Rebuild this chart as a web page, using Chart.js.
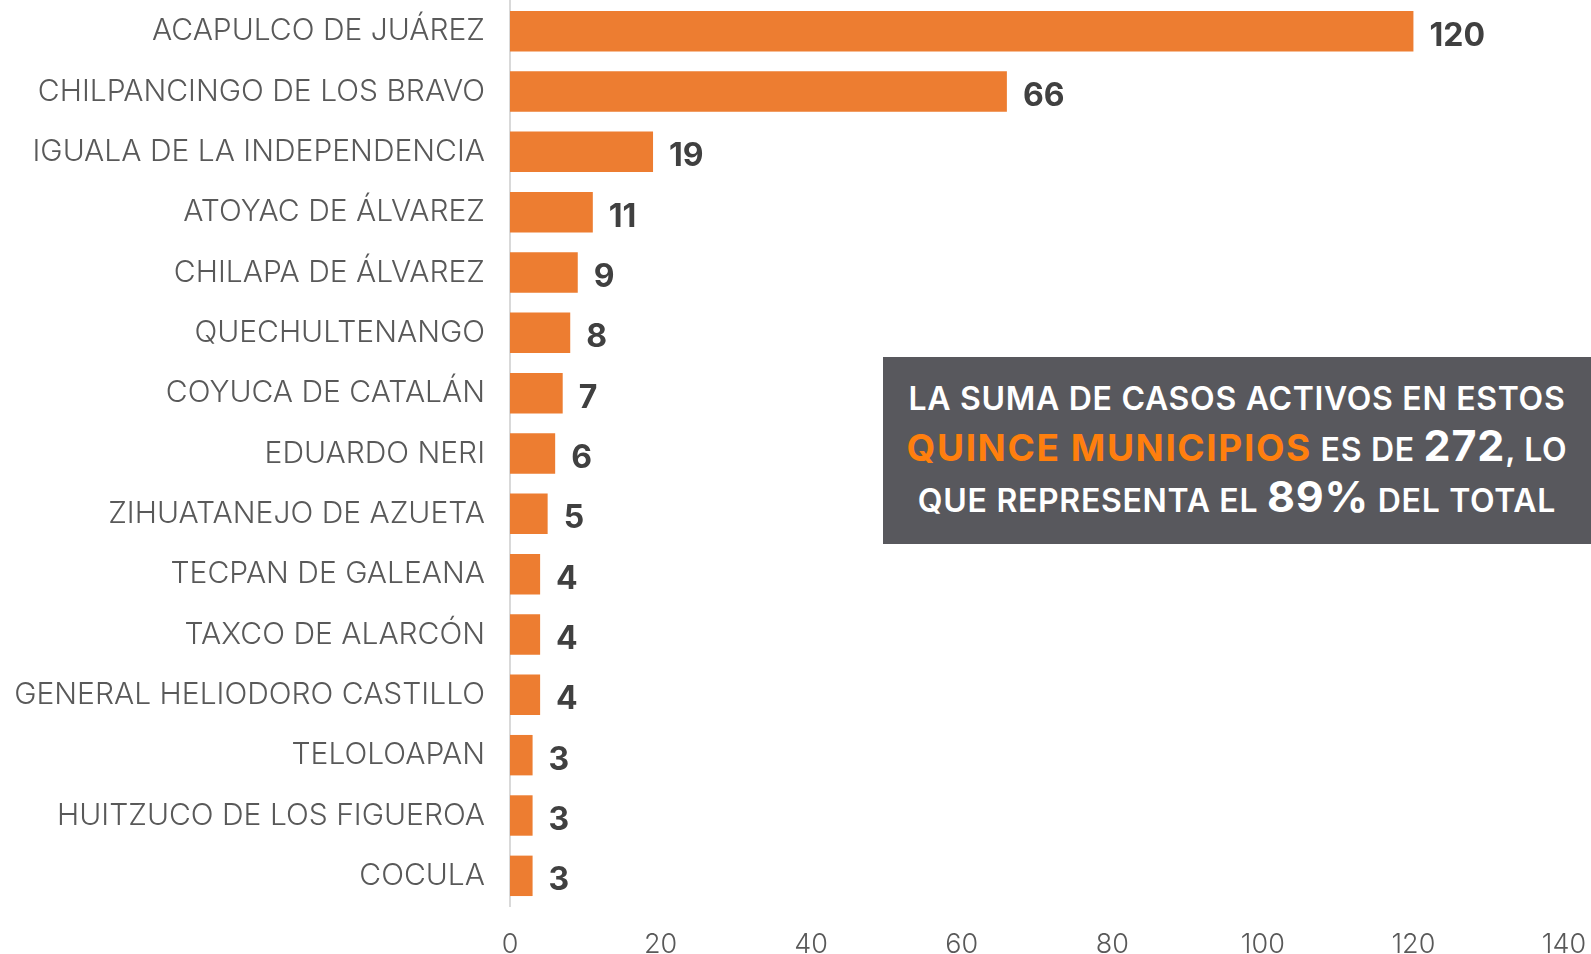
<!DOCTYPE html>
<html>
<head>
<meta charset="utf-8">
<script src="https://cdn.jsdelivr.net/npm/chart.js@4.4.0/dist/chart.umd.min.js"></script>
<style>
  html, body { margin: 0; padding: 0; background: #ffffff; }
  #wrap { position: relative; width: 1591px; height: 954px; }
  canvas { display: block; }
  #note {
    position: absolute; left: 883px; top: 357px; width: 708px; height: 187px;
    background: #58585d; color: #ffffff; box-sizing: border-box;
    font-family: Inter, "Noto Sans", sans-serif; font-weight: 600; font-size: 32px;
    text-align: center; line-height: 50px; padding-top: 17px; letter-spacing: 0.7px;
    white-space: nowrap;
  }
  #note span { line-height: 1; }
  #note .o { color: #ff7f0e; font-weight: 700; font-size: 37px; letter-spacing: 1.6px; }
  #note .b { font-weight: 700; font-size: 43px; letter-spacing: 0.8px; }
</style>
</head>
<body>
<div id="wrap">
  <canvas id="c" width="1591" height="954"></canvas>
  <div id="note">LA SUMA DE CASOS ACTIVOS EN ESTOS<br><span class="o">QUINCE MUNICIPIOS</span> ES DE <span class="b">272</span>, LO<br>QUE REPRESENTA EL <span class="b">89%</span> DEL TOTAL</div>
</div>
<script>
const categories = [
  "ACAPULCO DE JUÁREZ", "CHILPANCINGO DE LOS BRAVO", "IGUALA DE LA INDEPENDENCIA",
  "ATOYAC DE ÁLVAREZ", "CHILAPA DE ÁLVAREZ", "QUECHULTENANGO", "COYUCA DE CATALÁN",
  "EDUARDO NERI", "ZIHUATANEJO DE AZUETA", "TECPAN DE GALEANA", "TAXCO DE ALARCÓN",
  "GENERAL HELIODORO CASTILLO", "TELOLOAPAN", "HUITZUCO DE LOS FIGUEROA", "COCULA"
];
const values = [120, 66, 19, 11, 9, 8, 7, 6, 5, 4, 4, 4, 3, 3, 3];
const xTicks = [0, 20, 40, 60, 80, 100, 120, 140];

const valueLabels = {
  id: 'valueLabels',
  afterDatasetsDraw(chart) {
    const ctx = chart.ctx;
    const meta = chart.getDatasetMeta(0);
    ctx.save();
    ctx.font = '700 32px Inter, "Noto Sans", sans-serif';
    ctx.fillStyle = '#404040';
    ctx.textBaseline = 'middle';
    ctx.textAlign = 'left';
    meta.data.forEach((bar, i) => {
      ctx.fillText(String(values[i]), bar.x + 16, bar.y + 5);
    });
    ctx.restore();
  }
};

new Chart(document.getElementById('c'), {
  type: 'bar',
  data: {
    labels: categories,
    datasets: [{
      data: values,
      backgroundColor: '#ED7D31',
      borderWidth: 0,
      categoryPercentage: 1,
      barPercentage: 0.67
    }]
  },
  options: {
    indexAxis: 'y',
    responsive: false,
    animation: false,
    layout: { padding: { left: 0, right: 27, top: 1, bottom: 0 } },
    plugins: { legend: { display: false }, tooltip: { enabled: false } },
    scales: {
      x: {
        min: 0, max: 140,
        afterBuildTicks(scale) { scale.ticks = xTicks.map(v => ({ value: v })); },
        grid: { display: false, drawTicks: false },
        border: { display: false },
        ticks: {
          color: '#595959',
          font: { family: 'Inter, "Noto Sans", sans-serif', size: 27, weight: 300 },
          padding: 23,
          maxRotation: 0
        },
        afterFit(scale) { scale.height = 48; scale.paddingLeft = 0; scale.paddingRight = 0; }
      },
      y: {
        grid: { display: false, drawTicks: false },
        border: { display: true, color: '#d9d9d9', width: 2 },
        ticks: {
          color: '#595959',
          font: { family: 'Inter, "Noto Sans", sans-serif', size: 30, weight: 300 },
          padding: 25,
          autoSkip: false
        },
        afterFit(scale) { scale.width = 510; scale.paddingTop = 0; scale.paddingBottom = 0; }
      }
    }
  },
  plugins: [valueLabels]
});
</script>
</body>
</html>
